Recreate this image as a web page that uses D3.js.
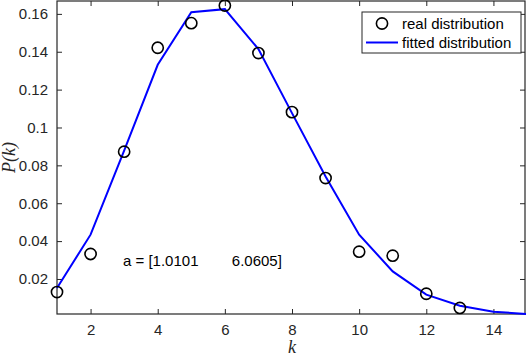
<!DOCTYPE html>
<html>
<head>
<meta charset="utf-8">
<script src="https://cdn.jsdelivr.net/npm/d3@7"></script>
<style>
  body { margin: 0; background: #fff; }
  svg { display: block; }
  .tick text { font-family: "Liberation Sans", Arial, sans-serif; font-size: 15px; fill: #262626; }
  .lbl { font-family: "Liberation Serif", "DejaVu Serif", serif; font-style: italic; font-size: 18px; fill: #262626; }
  .txt { font-family: "Liberation Sans", Arial, sans-serif; font-size: 15px; fill: #000; }
</style>
</head>
<body>
<div id="chart"></div>
<script>
// values
const kValues = [1, 2, 3, 4, 5, 6, 7, 8, 9, 10, 11, 12, 13];
const realValues = [0.0131, 0.0332, 0.0872, 0.1421, 0.1551, 0.1644, 0.1393, 0.1081, 0.0733, 0.0344, 0.0323, 0.0122, 0.0047];
const fitK = [1, 2, 3, 4, 5, 6, 7, 8, 9, 10, 11, 12, 13, 14, 15];
const fitValues = [0.0152, 0.0434, 0.0878, 0.1331, 0.1609, 0.1625, 0.1414, 0.1076, 0.0741, 0.0434, 0.0240, 0.0117, 0.0059, 0.0027, 0.0015];
const xTicks = [2, 4, 6, 8, 10, 12, 14];
const yTicks = [0.02, 0.04, 0.06, 0.08, 0.1, 0.12, 0.14, 0.16];
const paramText = "a = [1.0101        6.0605]";
const legendLabels = ["real distribution", "fitted distribution"];

const W = 526, H = 358;
const margin = {top: 1, right: 1, bottom: 44, left: 57};
const width = W - margin.left - margin.right;
const height = H - margin.top - margin.bottom;
const axisColor = "#262626";

const svg = d3.select("#chart").append("svg")
    .attr("width", W)
    .attr("height", H);

const g = svg.append("g")
    .attr("transform", "translate(" + margin.left + "," + margin.top + ")");

const x = d3.scaleLinear().domain([1, 15]).range([0, width + 2]);
const y = d3.scaleLinear().domain([0.0015, 0.1668]).range([height, 0]);

// axes (MATLAB style, ticks inside, box on)
const tickLen = 5;
g.append("g")
    .attr("transform", "translate(0," + height + ")")
    .call(d3.axisBottom(x).tickValues(xTicks).tickSizeInner(-tickLen).tickSizeOuter(0).tickPadding(10).tickFormat(d3.format("d")));
g.append("g")
    .attr("class", "y-axis")
    .call(d3.axisLeft(y).tickValues(yTicks).tickSizeInner(-tickLen).tickSizeOuter(0).tickPadding(9).tickFormat(d => String(+d.toFixed(2))));
g.append("g")
    .call(d3.axisTop(x).tickValues(xTicks).tickSizeInner(-tickLen).tickSizeOuter(0).tickFormat(""));
g.append("g")
    .attr("transform", "translate(" + width + ",0)")
    .call(d3.axisRight(y).tickValues(yTicks).tickSizeInner(-tickLen).tickSizeOuter(0).tickFormat(""));

g.selectAll(".domain").remove();
g.selectAll(".tick line").attr("stroke", axisColor).attr("stroke-width", 1);

g.append("rect")
    .attr("x", 0).attr("y", 0)
    .attr("width", width).attr("height", height)
    .attr("fill", "none")
    .attr("stroke", axisColor)
    .attr("stroke-width", 1.2);

// fitted line
const line = d3.line()
    .x((d, i) => x(fitK[i]))
    .y(d => y(d));

g.append("path")
    .datum(fitValues)
    .attr("fill", "none")
    .attr("stroke", "#0000ff")
    .attr("stroke-width", 2)
    .attr("d", line);

// real points
g.selectAll(".pt")
    .data(realValues)
    .enter().append("circle")
    .attr("class", "pt")
    .attr("cx", (d, i) => x(kValues[i]))
    .attr("cy", d => y(d))
    .attr("r", 5.6)
    .attr("fill", "none")
    .attr("stroke", "#000")
    .attr("stroke-width", 1.6);

// annotation
g.append("text")
    .attr("class", "txt")
    .attr("x", 123 - margin.left)
    .attr("y", 266 - margin.top)
    .attr("xml:space", "preserve")
    .style("white-space", "pre")
    .text(paramText);

// axis labels
svg.append("text")
    .attr("class", "lbl")
    .attr("x", x(8) + margin.left)
    .attr("y", 353)
    .attr("text-anchor", "middle")
    .text("k");

svg.append("text")
    .attr("class", "lbl")
    .attr("transform", "translate(15," + (margin.top + height / 2) + ") rotate(-90)")
    .attr("text-anchor", "middle")
    .text("P(k)");

// legend
const legend = svg.append("g").attr("transform", "translate(362,12)");
legend.append("rect")
    .attr("width", 159).attr("height", 41)
    .attr("fill", "#fff")
    .attr("stroke", axisColor)
    .attr("stroke-width", 1);
legend.append("circle")
    .attr("cx", 20).attr("cy", 11.5).attr("r", 5.6)
    .attr("fill", "none").attr("stroke", "#000").attr("stroke-width", 1.6);
legend.append("line")
    .attr("x1", 4).attr("x2", 36).attr("y1", 30.5).attr("y2", 30.5)
    .attr("stroke", "#0000ff").attr("stroke-width", 2);
legend.selectAll(".leg-text")
    .data(legendLabels)
    .enter().append("text")
    .attr("class", "txt leg-text")
    .attr("x", 40)
    .attr("y", (d, i) => 17 + i * 19)
    .text(d => d);
</script>
</body>
</html>
